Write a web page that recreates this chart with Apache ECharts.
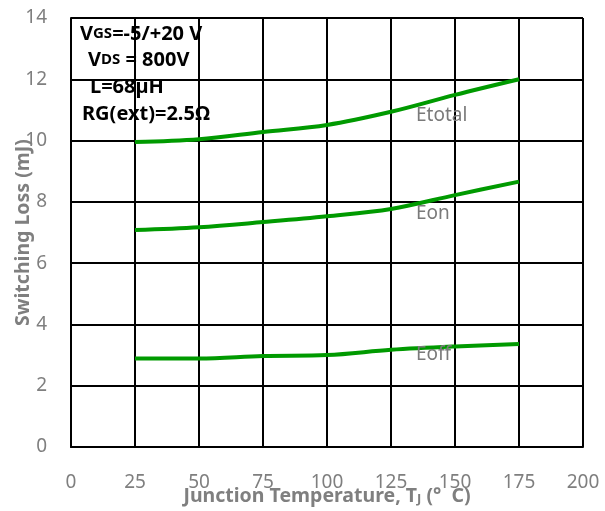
<!DOCTYPE html>
<html>
<head>
<meta charset="utf-8">
<script src="https://cdn.jsdelivr.net/npm/echarts@6/dist/echarts.min.js"></script>
<style>html,body{margin:0;padding:0;background:#fff}#c{width:605px;height:511px}</style>
</head>
<body>
<div id="c"></div>
<script>
var temps = [25, 50, 75, 100, 125, 150, 175];
var eTotal = [9.95, 10.04, 10.28, 10.51, 10.94, 11.49, 12.0];
var eOn = [7.08, 7.17, 7.34, 7.53, 7.77, 8.22, 8.66];
var eOff = [2.89, 2.89, 2.97, 3.0, 3.17, 3.28, 3.36];
var xTicks = [0, 25, 50, 75, 100, 125, 150, 175, 200];
var yTicks = [0, 2, 4, 6, 8, 10, 12, 14];
var seriesNames = ['Etotal', 'Eon', 'Eoff'];

function pairs(v) { return temps.map(function (t, i) { return [t, v[i]]; }); }

var FONT = '"Noto Sans", "Open Sans", sans-serif';
var lineStyle = { color: '#009a00', width: 4 };
function mk(name, vals) {
  return { name: name, type: 'line', data: pairs(vals), smooth: 0.35, symbol: 'none',
    lineStyle: lineStyle, z: 5 };
}

var chart = echarts.init(document.getElementById('c'));
chart.setOption({
  animation: false,
  backgroundColor: '#fff',
  grid: { left: 71, right: 22, top: 18, bottom: 64, containLabel: false, outerBoundsMode: 'none' },
  xAxis: {
    type: 'value', min: xTicks[0], max: xTicks[xTicks.length - 1], interval: 25,
    axisLine: { show: true, lineStyle: { color: '#000', width: 2 } },
    axisTick: { show: false },
    splitLine: { show: true, lineStyle: { color: '#000', width: 2 } },
    axisLabel: { color: '#7f7f7f', fontSize: 19, fontFamily: FONT, margin: 26 },
    name: 'Junction Temperature, T{s|J} (°  C)',
    nameLocation: 'middle', nameGap: 39, nameMoveOverlap: false,
    nameTextStyle: { color: '#7f7f7f', fontSize: 19.5, fontWeight: 'bold', fontFamily: FONT,
      rich: { s: { fontSize: 13, fontWeight: 'bold', color: '#7f7f7f', fontFamily: FONT, verticalAlign: 'bottom', padding: [7, 0, 0, 0] } } }
  },
  yAxis: {
    type: 'value', min: yTicks[0], max: yTicks[yTicks.length - 1], interval: 2,
    axisLine: { show: true, lineStyle: { color: '#000', width: 2 } },
    axisTick: { show: false },
    splitLine: { show: true, lineStyle: { color: '#000', width: 2 } },
    axisLabel: { color: '#7f7f7f', fontSize: 19, fontFamily: FONT, margin: 24 },
    name: 'Switching Loss (mJ)',
    nameLocation: 'middle', nameGap: 38, nameMoveOverlap: false,
    nameTextStyle: { color: '#7f7f7f', fontSize: 19.5, fontWeight: 'bold', fontFamily: FONT }
  },
  series: [mk(seriesNames[0], eTotal), mk(seriesNames[1], eOn), mk(seriesNames[2], eOff)],
  graphic: [
    { type: 'text', left: 80, top: 24, z: 10, style: { text: 'V{s|GS}=-5/+20 V', fill: '#000', font: 'bold 20px ' + FONT,
      rich: { s: { fontSize: 15, fontWeight: 'bold', fill: '#000', fontFamily: FONT } } } },
    { type: 'text', left: 88, top: 50, z: 10, style: { text: 'V{s|DS} = 800V', fill: '#000', font: 'bold 20px ' + FONT,
      rich: { s: { fontSize: 15, fontWeight: 'bold', fill: '#000', fontFamily: FONT } } } },
    { type: 'text', left: 90, top: 77, z: 10, style: { text: 'L=68µH', fill: '#000', font: 'bold 20px ' + FONT } },
    { type: 'text', left: 82, top: 104, z: 10, style: { text: 'RG(ext)=2.5Ω', fill: '#000', font: 'bold 20px ' + FONT } },
    { type: 'text', left: 416, top: 106, z: 10, style: { text: seriesNames[0], fill: '#7a7a7a', font: '19px ' + FONT } },
    { type: 'text', left: 416, top: 204, z: 10, style: { text: seriesNames[1], fill: '#7a7a7a', font: '19px ' + FONT } },
    { type: 'text', left: 416, top: 345, z: 10, style: { text: seriesNames[2], fill: '#7a7a7a', font: '19px ' + FONT } }
  ]
});
</script>
</body>
</html>
